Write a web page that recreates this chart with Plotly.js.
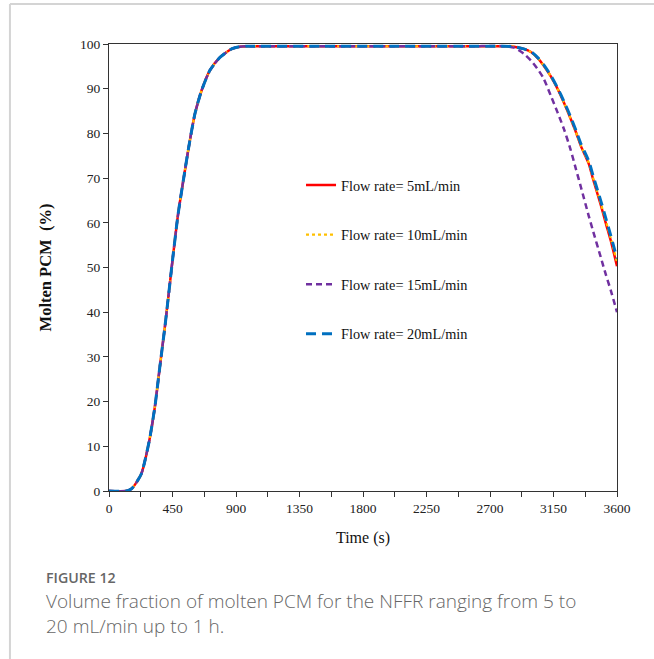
<!DOCTYPE html>
<html>
<head>
<meta charset="utf-8">
<script src="https://cdn.plot.ly/plotly-3.0.1.min.js"></script>
<style>
html,body{margin:0;padding:0;background:#fff;}
#chart{width:654px;height:659px;}
</style>
</head>
<body>
<div id="chart"></div>
<script>
// Time grid (s)
const timeS = [0, 120, 160, 190, 230, 284, 325, 360, 396, 426, 450, 490, 538, 573, 609, 656, 715, 786, 869, 928, 1000, 1500, 2000, 2500, 2800, 2870, 2940, 2990, 3040, 3080, 3130, 3180, 3225, 3270, 3310, 3345, 3400, 3430, 3485, 3520, 3556, 3600];

// Molten PCM (%) for each flow rate
const flow5 = [0, 0, 0.5, 1.7, 3.9, 11, 18.8, 27.7, 36.7, 44.9, 51.6, 62, 71.7, 78.4, 84.4, 89.6, 94.1, 97.0, 98.9, 99.4, 99.5, 99.5, 99.5, 99.5, 99.5, 99.4, 98.9, 98.2, 96.8, 95.2, 92.8, 89.9, 86.8, 83.4, 80.2, 77.1, 73.2, 69.8, 64.0, 60.0, 56.0, 50.3];
const flow10 = [0, 0, 0.5, 1.7, 3.9, 11, 18.8, 27.7, 36.7, 44.9, 51.6, 62, 71.7, 78.4, 84.4, 89.6, 94.1, 97.0, 98.9, 99.4, 99.5, 99.5, 99.5, 99.5, 99.5, 99.4, 98.9, 98.2, 96.8, 95.2, 92.8, 89.9, 86.8, 83.4, 80.2, 77.2, 73.4, 70.1, 64.4, 60.5, 56.5, 51.2];
const flow15 = [0, 0, 0.5, 1.7, 3.9, 11, 18.8, 27.7, 36.7, 44.9, 51.6, 62, 71.7, 78.4, 84.4, 89.6, 94.1, 97.0, 98.9, 99.4, 99.5, 99.5, 99.5, 99.5, 99.5, 99.2, 97.8, 96.3, 94.3, 92.3, 88.5, 84.6, 80.9, 76.5, 71.9, 67.9, 61.5, 58.2, 52.3, 48.5, 44.9, 40.0];
const flow20 = [0, 0, 0.5, 1.7, 3.9, 11, 18.8, 27.7, 36.7, 44.9, 51.6, 62, 71.7, 78.4, 84.4, 89.6, 94.1, 97.0, 98.9, 99.4, 99.5, 99.5, 99.5, 99.5, 99.5, 99.4, 98.9, 98.3, 96.9, 95.4, 93.0, 90.1, 87.1, 83.8, 80.6, 77.6, 73.8, 70.6, 64.9, 61.1, 57.1, 52.0];

const seriesNames = ["Flow rate= 5mL/min", "Flow rate= 10mL/min", "Flow rate= 15mL/min", "Flow rate= 20mL/min"];
const xTicks = [0, 450, 900, 1350, 1800, 2250, 2700, 3150, 3600];
const yTicks = [0, 10, 20, 30, 40, 50, 60, 70, 80, 90, 100];

const serif = "Liberation Serif, Times New Roman, serif";
const styles = [
  {color: "#FF0000", width: 2.5, dash: "solid"},
  {color: "#FFC000", width: 2.2, dash: "dot"},
  {color: "#7030A0", width: 2.5, dash: "6px,4px"},
  {color: "#0070C0", width: 3, dash: "10px,6px"}
];
const ys = [flow5, flow10, flow15, flow20];

const traces = ys.map((y, i) => ({
  x: timeS, y: y, type: "scatter", mode: "lines",
  name: seriesNames[i], legendgroup: "g" + i,
  line: Object.assign({shape: "spline", smoothing: 0.6}, styles[i])
}));

const layout = {
  width: 654, height: 659,
  paper_bgcolor: "#fff", plot_bgcolor: "#fff",
  margin: {l: 109, r: 37, t: 44, b: 168},
  showlegend: true,
  legend: {
    x: 0.378, y: 0.72, xanchor: "left", yanchor: "top",
    font: {family: serif, size: 14.3, color: "#111"},
    tracegroupgap: 28, bgcolor: "rgba(0,0,0,0)", itemwidth: 30
  },
  xaxis: {
    range: [0, 3600], tickvals: xTicks, ticks: "outside", ticklen: 5, tickcolor: "#333",
    showline: true, linecolor: "#333", linewidth: 1, mirror: true, showgrid: false, zeroline: false,
    tickfont: {family: serif, size: 13.5, color: "#222"},
    minor: {dtick: 225, tick0: 0, ticks: "outside", ticklen: 5, tickcolor: "#333", showgrid: false},
    title: {text: "Time (s)", font: {family: serif, size: 16, color: "#111"}, standoff: 16}
  },
  yaxis: {
    range: [0, 100], tickvals: yTicks, ticks: "outside", ticklen: 5, tickcolor: "#333",
    showline: true, linecolor: "#333", linewidth: 1, mirror: true, showgrid: false, zeroline: false,
    tickfont: {family: serif, size: 13.5, color: "#222"},
    title: {text: "<b>Molten PCM  (%)</b>", font: {family: serif, size: 16.5, color: "#111"}, standoff: 24}
  },
  shapes: [
    {type: "line", xref: "paper", yref: "paper", x0: -0.195, x1: 1.075, y0: 1.0895, y1: 1.0895, line: {color: "#d4d4d4", width: 2}},
    {type: "line", xref: "paper", yref: "paper", x0: -0.195, x1: -0.195, y0: 1.0895, y1: -0.4, line: {color: "#d4d4d4", width: 2}}
  ],
  annotations: [
    {text: "FIGURE 12", xref: "paper", yref: "paper", x: -0.127, y: -0.193, xanchor: "left", yanchor: "middle",
     showarrow: false, font: {family: "Open Sans, sans-serif", size: 14.2, color: "#666", weight: 600}},
    {text: "Volume fraction of molten PCM for the NFFR ranging from 5 to<br>20 mL/min up to 1 h.", xref: "paper", yref: "paper",
     x: -0.127, y: -0.213, xanchor: "left", yanchor: "top", align: "left", showarrow: false,
     font: {family: "Open Sans, sans-serif", size: 19, color: "#666", weight: 300}}
  ]
};

Plotly.newPlot("chart", traces, layout, {displayModeBar: false, staticPlot: true});
</script>
</body>
</html>
